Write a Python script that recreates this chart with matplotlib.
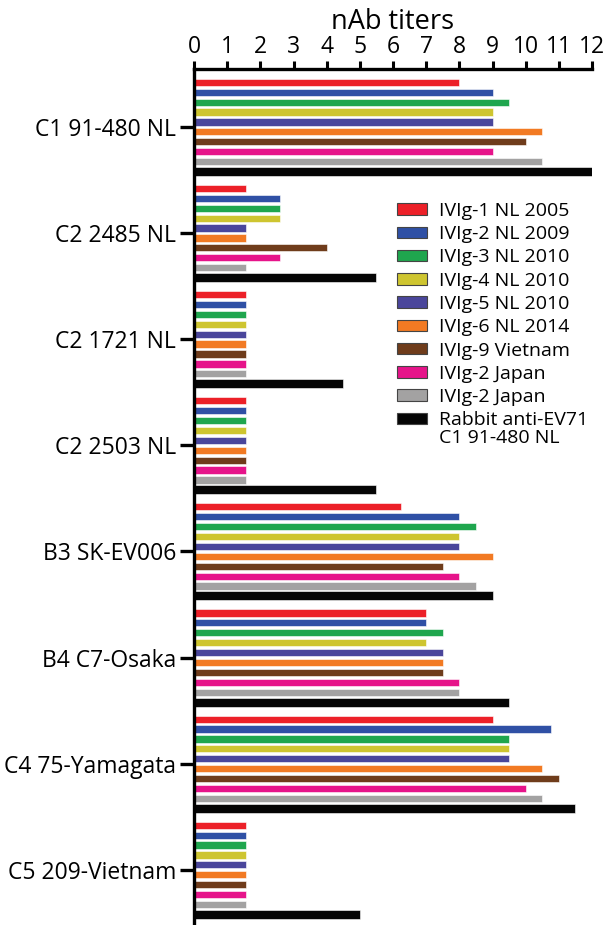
import matplotlib
matplotlib.use("Agg")
import matplotlib.pyplot as plt
import numpy as np
from matplotlib.patches import Patch

plt.rcParams['font.family'] = ['Open Sans', 'DejaVu Sans']

viruses = ["C1 91-480 NL", "C2 2485 NL", "C2 1721 NL", "C2 2503 NL",
           "B3 SK-EV006", "B4 C7-Osaka", "C4 75-Yamagata", "C5 209-Vietnam"]
series_names = ["IVIg-1 NL 2005", "IVIg-2 NL 2009", "IVIg-3 NL 2010", "IVIg-4 NL 2010",
                "IVIg-5 NL 2010", "IVIg-6 NL 2014", "IVIg-9 Vietnam", "IVIg-2 Japan",
                "IVIg-2 Japan", "Rabbit anti-EV71"]
last_label_line2 = "C1 91-480 NL"
colors = ["#EC2028", "#2F50A5", "#1FA64E", "#CEC530", "#4A469B",
          "#F27A23", "#6F3C1B", "#E6148A", "#A3A2A2", "#050505"]

ivig1 = [8, 1.58, 1.58, 1.58, 6.25, 7, 9, 1.58]
ivig2 = [9, 2.58, 1.58, 1.58, 8, 7, 10.75, 1.58]
ivig3 = [9.5, 2.58, 1.58, 1.58, 8.5, 7.5, 9.5, 1.58]
ivig4 = [9, 2.58, 1.58, 1.58, 8, 7, 9.5, 1.58]
ivig5 = [9, 1.58, 1.58, 1.58, 8, 7.5, 9.5, 1.58]
ivig6 = [10.5, 1.58, 1.58, 1.58, 9, 7.5, 10.5, 1.58]
ivig9_vn = [10, 4, 1.58, 1.58, 7.5, 7.5, 11, 1.58]
ivig2_jp_a = [9, 2.58, 1.58, 1.58, 8, 8, 10, 1.58]
ivig2_jp_b = [10.5, 1.58, 1.58, 1.58, 8.5, 8, 10.5, 1.58]
rabbit = [12, 5.5, 4.5, 5.5, 9, 9.5, 11.5, 5]

series = [ivig1, ivig2, ivig3, ivig4, ivig5, ivig6, ivig9_vn, ivig2_jp_a, ivig2_jp_b, rabbit]
xticks = list(range(0, 13))

fig = plt.figure(figsize=(6.07, 9.25), dpi=100)
ax = fig.add_axes([194/607, 0.0, (592-194)/607, 1 - 68.5/925])

step = 0.0933
h = 0.068
y = np.arange(len(viruses))
for j, (vals, c, name) in enumerate(zip(series, colors, series_names)):
    off = (j - 4.5) * step
    hgt = 0.085 if j == 9 else h
    ax.barh(y + off, vals, height=hgt, color=c, edgecolor='white', linewidth=0.4, label=name)

ax.set_xlim(0, 12)
ax.set_ylim(7.52, -0.55)
ax.xaxis.tick_top()
ax.xaxis.set_label_position('top')
ax.set_xticks(xticks)
ax.set_xticklabels([str(t) for t in xticks], fontsize=16.5)
ax.set_yticks(y)
ax.set_yticklabels(viruses, fontsize=16.5)
ax.set_xlabel("nAb titers", fontsize=19.5, labelpad=4)

for s in ['right', 'bottom']:
    ax.spines[s].set_visible(False)
for s in ['left', 'top']:
    ax.spines[s].set_linewidth(2.4)
    ax.spines[s].set_color('black')
ax.tick_params(axis='x', direction='out', length=6, width=2.2, pad=1)
ax.tick_params(axis='y', direction='out', length=10, width=2.4, pad=3)

leg_handles = [Patch(facecolor=c, edgecolor='#444444', linewidth=0.8) for c in colors]
leg = fig.legend(leg_handles, series_names, loc='upper left',
                 bbox_to_anchor=(397/607, 1 - 202/925), frameon=False,
                 fontsize=14, handlelength=1.55, handleheight=0.55,
                 handletextpad=0.6, labelspacing=0.27, borderpad=0, borderaxespad=0)

fig.canvas.draw()
last = leg.get_texts()[-1]
bb = last.get_window_extent(renderer=fig.canvas.get_renderer())
cy = (bb.y0 + bb.y1) / 2 - 18
fig.text(bb.x0 / fig.bbox.width, cy / fig.bbox.height, last_label_line2,
         fontsize=14, ha='left', va='center')

fig.savefig("out.png", dpi=100)
